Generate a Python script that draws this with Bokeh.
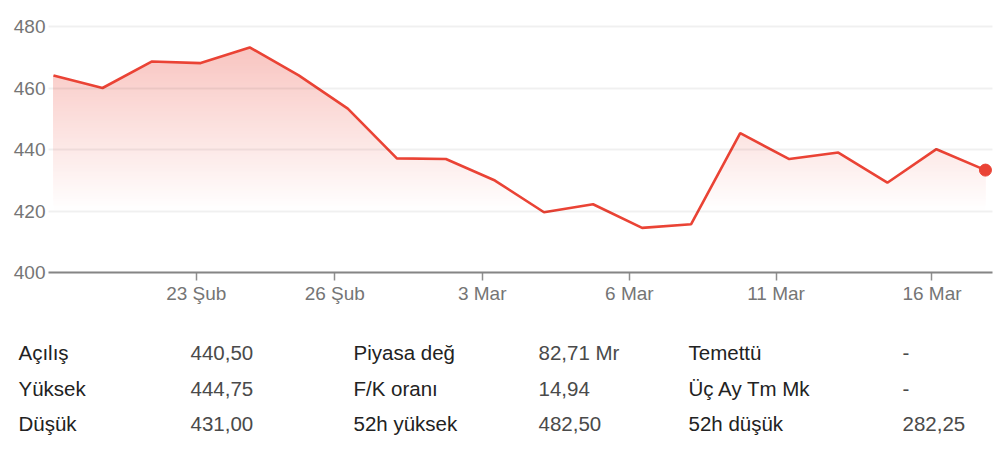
import numpy as np
from bokeh.plotting import figure
from bokeh.models import Range1d, FixedTicker
from bokeh.core.properties import value
from bokeh.embed import file_html
from bokeh.resources import INLINE

# ---- data ----
prices = [464.1, 460.0, 468.6, 468.1, 473.2, 464.1, 453.3, 437.1, 436.9, 429.9,
          419.6, 422.2, 414.5, 415.7, 445.3, 436.9, 439.0, 429.2, 440.1, 433.3]
tick_pos = [2.91, 5.735, 8.74, 11.74, 14.73, 17.91]
tick_labels = ["23 Şub", "26 Şub", "3 Mar", "6 Mar", "11 Mar", "16 Mar"]
y_ticks = [400, 420, 440, 460, 480]

labels_col1 = ["Açılış", "Yüksek", "Düşük"]
vals_col1 = ["440,50", "444,75", "431,00"]
labels_col2 = ["Piyasa değ", "F/K oranı", "52h yüksek"]
vals_col2 = ["82,71 Mr", "14,94", "482,50"]
labels_col3 = ["Temettü", "Üç Ay Tm Mk", "52h düşük"]
vals_col3 = ["-", "-", "282,25"]

RED = "#ea4335"
RED_RGB = (234, 67, 53)
GRAY = "#757575"
FONT = "Liberation Sans"

# ---- layout geometry (pixels on the page) ----
W, H = 1005, 460
X0_PX, DX_PX = 53.0, 49.05     # page x of first point, pixels per point
Y400_PX, DY_PX = 272.0, 3.075  # page y of value 400, pixels per unit
LEFT_PX, RIGHT_PX = 48.0, 992.0


def fx(px):
    return (px - X0_PX) / DX_PX


def fy(py):
    return 400.0 + (Y400_PX - py) / DY_PX


n = len(prices)
x = np.arange(n, dtype=float)
v = np.array(prices)

p = figure(width=W, height=H,
           x_range=Range1d(fx(0), fx(W)), y_range=Range1d(fy(H), fy(0)),
           output_backend="svg", toolbar_location=None, min_border=0)
p.outline_line_color = None
p.background_fill_color = "white"
p.border_fill_color = "white"


def blend(a):
    r, g, b = [int(round(255 - a * (255 - c))) for c in RED_RGB]
    return "#%02x%02x%02x" % (r, g, b)


# gradient fill under the line: opaque nested layers, lowest first
levels = np.arange(420.0, v.max(), 0.5)
amax = 0.31
for L in levels:
    A = min(amax, amax * (L + 0.25 - 420.0) / (v.max() - 420.0))
    xs = list(x)
    for i in range(n - 1):
        v0, v1 = v[i], v[i + 1]
        if (v0 - L) * (v1 - L) < 0:
            xs.append(x[i] + (L - v0) / (v1 - v0))
    xs = np.sort(np.array(xs))
    ys = np.interp(xs, x, v)
    p.varea(x=xs, y1=np.full_like(xs, L), y2=np.maximum(ys, L),
            fill_color=blend(A), fill_alpha=1.0)

p.line(x, v, line_color=RED, line_width=2.6)
p.scatter([x[-1]], [v[-1]], size=12, fill_color=RED, line_color=RED)

# grid (translucent, drawn over the fill), limited to the chart width
p.xgrid.visible = False
p.ygrid.ticker = FixedTicker(ticks=y_ticks)
p.ygrid.grid_line_color = "#000000"
p.ygrid.grid_line_alpha = 0.06
p.ygrid.grid_line_width = 2
p.ygrid.level = "overlay"
p.ygrid.bounds = (400, 480)
try:
    p.ygrid.cross_bounds = (fx(LEFT_PX), fx(RIGHT_PX))
except Exception:
    p.ygrid.visible = False
    p.segment(x0=[fx(LEFT_PX)] * len(y_ticks), x1=[fx(RIGHT_PX)] * len(y_ticks),
              y0=y_ticks, y1=y_ticks, line_color="#000000", line_alpha=0.06,
              line_width=2, level="overlay")

# y axis, drawn inside the frame at the chart's left edge
p.yaxis.fixed_location = fx(LEFT_PX)
p.yaxis.ticker = FixedTicker(ticks=y_ticks)
p.yaxis.axis_line_color = None
p.yaxis.major_tick_line_color = None
p.yaxis.minor_tick_line_color = None
p.yaxis.major_tick_out = 0
p.yaxis.major_tick_in = 0
p.yaxis.major_label_standoff = 3
p.yaxis.major_label_text_font = FONT
p.yaxis.major_label_text_font_size = "19px"
p.yaxis.major_label_text_color = GRAY

# x axis, drawn at value 400
p.xaxis.fixed_location = 400
p.xaxis.bounds = (fx(LEFT_PX), fx(RIGHT_PX))
p.xaxis.ticker = FixedTicker(ticks=tick_pos)
p.xaxis.major_label_overrides = {t: l for t, l in zip(tick_pos, tick_labels)}
p.xaxis.axis_line_color = "#8e8e8e"
p.xaxis.axis_line_width = 2
p.xaxis.major_tick_line_color = "#8e8e8e"
p.xaxis.major_tick_line_width = 1.5
p.xaxis.major_tick_out = 8
p.xaxis.major_tick_in = 0
p.xaxis.minor_tick_line_color = None
p.xaxis.major_label_standoff = 2
p.xaxis.major_label_text_font = FONT
p.xaxis.major_label_text_font_size = "19px"
p.xaxis.major_label_text_color = GRAY

# ---- key statistics table under the chart ----
row_py = [352, 388, 423]
cols = [(18, labels_col1, "#222222"), (190, vals_col1, "#4a4a4a"),
        (353, labels_col2, "#222222"), (538, vals_col2, "#4a4a4a"),
        (688, labels_col3, "#222222"), (902, vals_col3, "#4a4a4a")]
for cx, texts, col in cols:
    p.text(x=[fx(cx)] * len(texts), y=[fy(r) for r in row_py], text=texts,
           text_font=value(FONT), text_font_size="20.5px",
           text_color=col, text_baseline="middle", text_align="left")

open("out.html", "w").write(file_html(p, INLINE))
